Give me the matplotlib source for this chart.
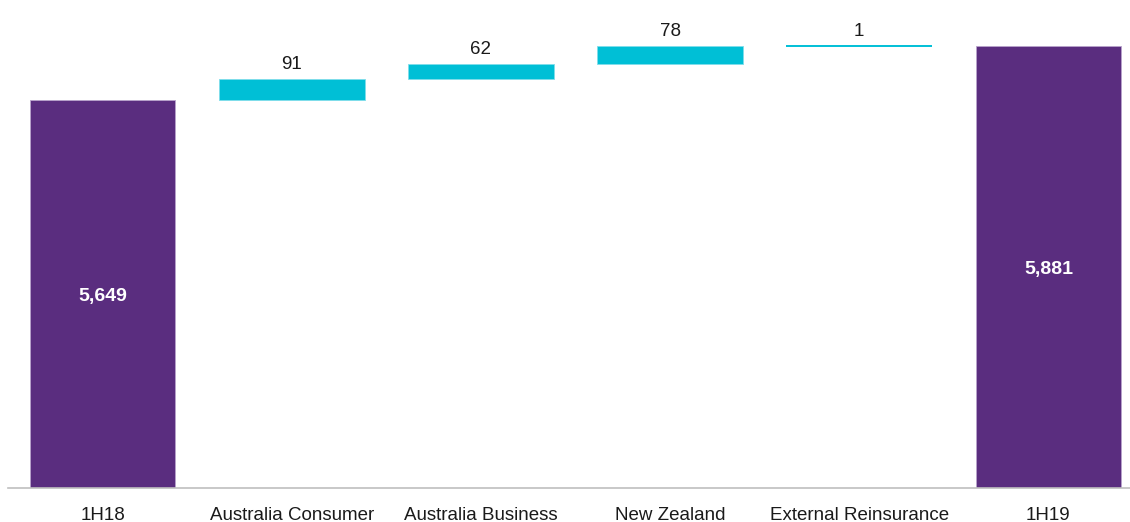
import matplotlib
matplotlib.use("Agg")
import matplotlib.pyplot as plt

plt.rcParams['font.family'] = ['Liberation Sans', 'DejaVu Sans']

categories = ["1H18", "Australia Consumer", "Australia Business",
              "New Zealand", "External Reinsurance", "1H19"]
start_total = 5649
changes = [91, 62, 78, 1]
end_total = 5881

purple = "#5A2D7F"
purple_edge = "#B9A3CC"
cyan = "#00BFD6"
cyan_edge = "#7FDDEA"

W, H = 1130, 522
fig = plt.figure(figsize=(W / 100, H / 100), dpi=100)
base_px = 488.3
ax = fig.add_axes([8 / W, (H - base_px) / H, 1 - 8 / W, base_px / H])

y_min = 4000
px_per_unit = 0.2353
y_max = y_min + base_px / px_per_unit
bar_w = 0.77

x = list(range(len(categories)))

# Totals
for xi, val in [(x[0], start_total), (x[-1], end_total)]:
    ax.bar(xi, val - y_min, bottom=y_min, width=bar_w, color=purple,
           edgecolor=purple_edge, linewidth=0.6)
    ax.annotate(f"{val:,}", xy=(xi, (val + y_min) / 2), xytext=(0, -1.5),
                textcoords="offset points", ha="center", va="center",
                color="white", fontsize=14, fontweight="bold")

# Floating increments
running = start_total
for i, d in enumerate(changes):
    xi = x[i + 1]
    ax.bar(xi, d, bottom=running, width=bar_w, color=cyan,
           edgecolor=cyan_edge if d > 5 else cyan,
           linewidth=0.6 if d > 5 else 1.4)
    running += d
    ax.annotate(f"{d}", xy=(xi, running), xytext=(0, 7.3),
                textcoords="offset points", ha="center", va="baseline",
                fontsize=13.5, color="#1a1a1a")

ax.set_xlim(-0.5, 5.5 - 13 / 189)
ax.set_ylim(y_min, y_max)
ax.set_xticks(x)
ax.set_xticklabels(categories, fontsize=13.5, color="#1a1a1a")
ax.tick_params(axis="x", length=0, pad=13.5)
ax.set_yticks([])
for s in ["top", "right", "left"]:
    ax.spines[s].set_visible(False)
ax.spines["bottom"].set_color("#BFBFBF")
ax.spines["bottom"].set_linewidth(1.2)

fig.savefig("out.png", dpi=100)
